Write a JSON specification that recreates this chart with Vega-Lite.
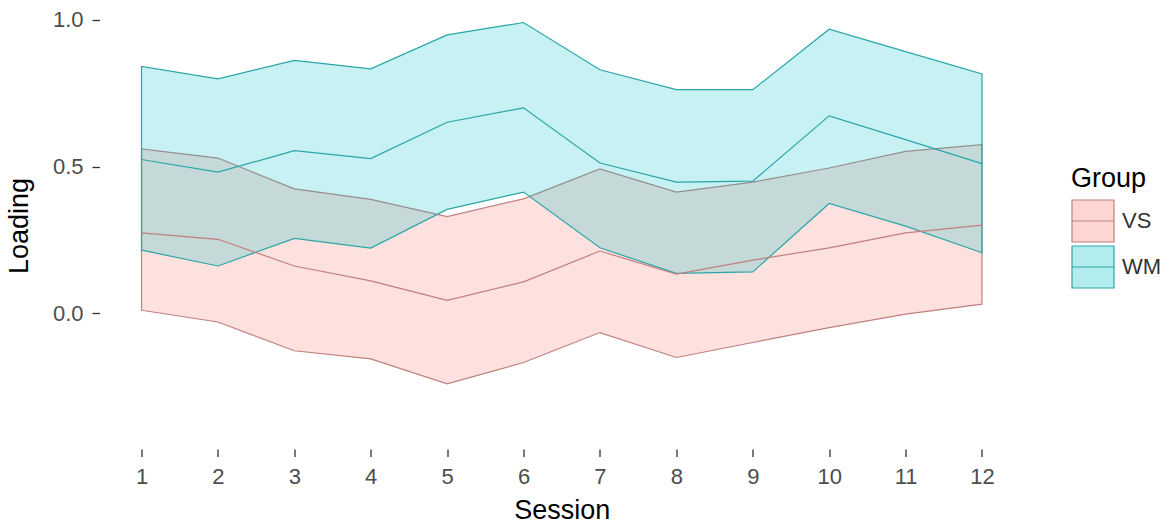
{
  "$schema": "https://vega.github.io/schema/vega-lite/v6.json",
  "autosize": "none",
  "width": 924.5,
  "height": 447,
  "padding": {"left": 99.5, "top": 2, "right": 151, "bottom": 78},
  "background": "white",
  "config": {
    "view": {"stroke": null},
    "font": "Liberation Sans",
    "axis": {
      "domain": false,
      "grid": false,
      "ticks": true,
      "tickColor": "#333333",
      "tickWidth": 1.3,
      "tickSize": 7.5,
      "labelFont": "Liberation Sans",
      "labelFontSize": 22,
      "labelColor": "#4d4d4d",
      "titleFont": "Liberation Sans",
      "titleFontSize": 27,
      "titleFontWeight": "normal",
      "titleColor": "#000000"
    },
    "legend": {
      "orient": "none",
      "legendX": 971.5,
      "legendY": 164,
      "padding": 0,
      "titleFont": "Liberation Sans",
      "titleFontSize": 27,
      "titleFontWeight": "normal",
      "titleColor": "#000000",
      "titlePadding": 6,
      "labelFont": "Liberation Sans",
      "labelFontSize": 22,
      "labelColor": "#333333",
      "labelOffset": 7,
      "rowPadding": -2,
      "symbolType": "M-1,-1H1V1H-1Z M-1,0H1",
      "symbolSize": 1764,
      "symbolStrokeWidth": 1.2
    }
  },
  "data": {
    "values": [
      {"Session": 1, "Group": "VS", "lower": 0.010, "mean": 0.274, "upper": 0.560},
      {"Session": 2, "Group": "VS", "lower": -0.030, "mean": 0.252, "upper": 0.529},
      {"Session": 3, "Group": "VS", "lower": -0.128, "mean": 0.161, "upper": 0.424},
      {"Session": 4, "Group": "VS", "lower": -0.156, "mean": 0.110, "upper": 0.388},
      {"Session": 5, "Group": "VS", "lower": -0.241, "mean": 0.044, "upper": 0.329},
      {"Session": 6, "Group": "VS", "lower": -0.168, "mean": 0.107, "upper": 0.390},
      {"Session": 7, "Group": "VS", "lower": -0.066, "mean": 0.212, "upper": 0.492},
      {"Session": 8, "Group": "VS", "lower": -0.151, "mean": 0.133, "upper": 0.413},
      {"Session": 9, "Group": "VS", "lower": -0.100, "mean": 0.181, "upper": 0.447},
      {"Session": 10, "Group": "VS", "lower": -0.049, "mean": 0.223, "upper": 0.495},
      {"Session": 11, "Group": "VS", "lower": -0.003, "mean": 0.274, "upper": 0.552},
      {"Session": 12, "Group": "VS", "lower": 0.031, "mean": 0.300, "upper": 0.575},
      {"Session": 1, "Group": "WM", "lower": 0.215, "mean": 0.524, "upper": 0.841},
      {"Session": 2, "Group": "WM", "lower": 0.161, "mean": 0.481, "upper": 0.799},
      {"Session": 3, "Group": "WM", "lower": 0.255, "mean": 0.554, "upper": 0.862},
      {"Session": 4, "Group": "WM", "lower": 0.222, "mean": 0.527, "upper": 0.833},
      {"Session": 5, "Group": "WM", "lower": 0.354, "mean": 0.651, "upper": 0.949},
      {"Session": 6, "Group": "WM", "lower": 0.413, "mean": 0.700, "upper": 0.991},
      {"Session": 7, "Group": "WM", "lower": 0.223, "mean": 0.512, "upper": 0.830},
      {"Session": 8, "Group": "WM", "lower": 0.136, "mean": 0.447, "upper": 0.762},
      {"Session": 9, "Group": "WM", "lower": 0.141, "mean": 0.450, "upper": 0.762},
      {"Session": 10, "Group": "WM", "lower": 0.374, "mean": 0.673, "upper": 0.968},
      {"Session": 11, "Group": "WM", "lower": 0.297, "mean": 0.592, "upper": 0.892},
      {"Session": 12, "Group": "WM", "lower": 0.206, "mean": 0.510, "upper": 0.816}
    ]
  },
  "encoding": {
    "x": {
      "field": "Session",
      "type": "quantitative",
      "scale": {"domain": [0.45, 12.55], "nice": false, "zero": false},
      "axis": {
        "values": [1, 2, 3, 4, 5, 6, 7, 8, 9, 10, 11, 12],
        "format": "d",
        "labelPadding": 10,
        "titlePadding": 10,
        "title": "Session"
      }
    }
  },
  "layer": [
    {
      "mark": {"type": "area", "fillOpacity": 0.22, "strokeWidth": 1.2, "strokeOpacity": 1},
      "encoding": {
        "y": {
          "field": "lower",
          "type": "quantitative",
          "scale": {"domain": [-0.463, 1.061], "nice": false, "zero": false},
          "axis": {
            "values": [0, 0.5, 1],
            "format": ".1f",
            "labelPadding": 9,
            "titlePadding": 19,
            "title": "Loading"
          }
        },
        "y2": {"field": "upper"},
        "fill": {
          "field": "Group",
          "type": "nominal",
          "title": "Group",
          "scale": {"domain": ["VS", "WM"], "range": ["#F8766D", "#00BFC4"]},
          "legend": {"encode": {"symbols": {"update": {"fillOpacity": {"value": 0.3}, "strokeOpacity": {"value": 1}, "opacity": {"value": 1}}}}}
        },
        "stroke": {
          "field": "Group",
          "type": "nominal",
          "title": "Group",
          "scale": {"domain": ["VS", "WM"], "range": ["#c0807e", "#2aa6a8"]}
        },
        "order": {"field": "Group"}
      }
    },
    {
      "mark": {"type": "line", "strokeWidth": 1.2},
      "encoding": {
        "y": {"field": "mean", "type": "quantitative"},
        "stroke": {"field": "Group", "type": "nominal", "title": "Group"}
      }
    }
  ]
}
